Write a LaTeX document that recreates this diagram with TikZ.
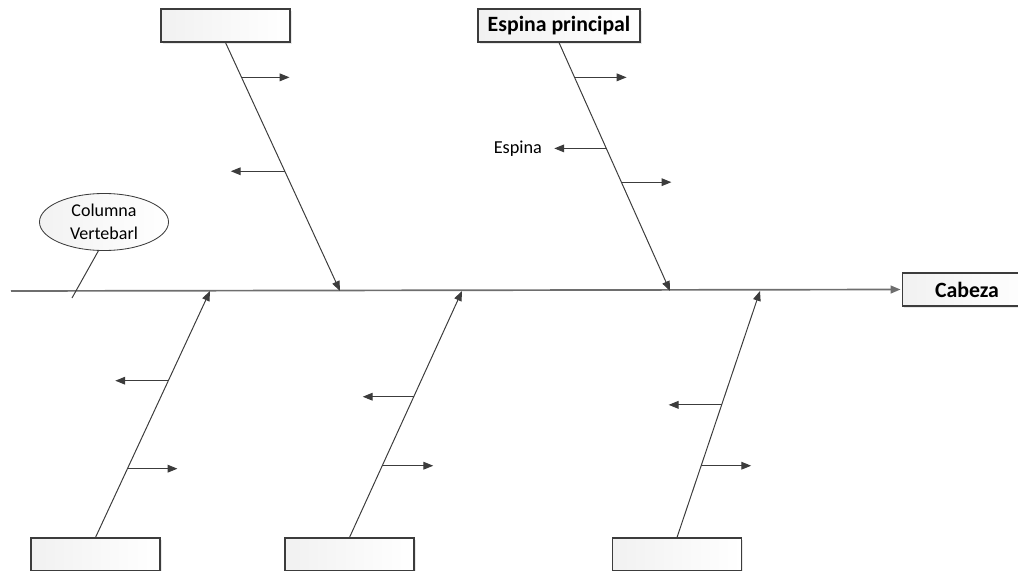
\documentclass[tikz,border=0pt]{standalone}
\usepackage{fontspec}
\setmainfont{Carlito}
\usepackage{tikz}
\usetikzlibrary{positioning,arrows.meta,shapes.geometric,shadows}

\definecolor{boneline}{HTML}{3C3C3C}
\definecolor{spineline}{HTML}{6E6E6E}

\begin{document}
\begin{tikzpicture}[
				x=0.025cm, y=-0.025cm,
				catbox/.style={rectangle, draw=boneline, line width=0.8pt, shading=axis, left color=gray!11, right color=white,
					minimum width=3.225cm, minimum height=0.825cm, inner sep=0pt,
					drop shadow={opacity=0.18, shadow xshift=1.2pt, shadow yshift=-1.2pt}},
				headbox/.style={catbox, font=\fontsize{15.5}{18}\selectfont\bfseries},
				spinenode/.style={ellipse, draw=boneline, line width=0.6pt, shading=axis, left color=gray!10, right color=white,
					minimum width=3.225cm, minimum height=1.425cm, inner sep=0pt, align=center,
					font=\fontsize{12.8}{16.5}\selectfont},
				bone/.style={draw=boneline, line width=0.7pt, -{Triangle[length=7pt,width=5.5pt]}},
				spur/.style={draw=boneline, line width=0.7pt, -{Triangle[length=7pt,width=5.5pt]}},
				spine/.style={draw=spineline, line width=1.2pt, -{Triangle[length=7pt,width=5.5pt]}, shorten >=1pt},
				spurlabel/.style={font=\fontsize{13}{15}\selectfont, inner sep=0pt},
				node distance = 0.3cm,
				]
				\useasboundingbox (0,0) rectangle (1018,571);
				
				%Boxes
				\node[catbox](tl) at (225.5,25.5){};
				\node[headbox, minimum width=4.05cm](tr) at (559,25.5){Espina principal};
				\node[catbox](bl) at (95.5,554.5){};
				\node[catbox](bm) at (349.5,554.5){};
				\node[catbox](br) at (677,554.5){};
				\node[headbox](head) at (967,289.5){Cabeza};
				\node[spinenode](col) at (104,222){Columna\\Vertebarl};
				
				%Joints on the spine
				\coordinate (start) at (11,291);
				\coordinate (jtl) at (340,291);
				\coordinate (jtr) at (670,291);
				\coordinate (jbl) at (210,291);
				\coordinate (jbm) at (462,291);
				\coordinate (jbr) at (760,291);
				\coordinate (colend) at (72,298);
				
				%Spine
				\draw[spine] (start) -- (head.west);
				\draw[draw=boneline, line width=0.7pt] (col.-101) -- (colend);
				
				%Bones
				\draw[bone] (tl.south) -- (jtl) coordinate[pos=0.14] (tl1) coordinate[pos=0.518] (tl2);
				\draw[bone] (tr.south) -- (jtr) coordinate[pos=0.14] (tr1) coordinate[pos=0.426] (tr2) coordinate[pos=0.562] (tr3);
				\draw[bone] (bl.north) -- (jbl) coordinate[pos=0.636] (bl1) coordinate[pos=0.279] (bl2);
				\draw[bone] (bm.north) -- (jbm) coordinate[pos=0.571] (bm1) coordinate[pos=0.291] (bm2);
				\draw[bone] (br.north) -- (jbr) coordinate[pos=0.538] (br1) coordinate[pos=0.291] (br2);
				
				%Spurs
				\draw[spur] (tl1) -- ++(48,0) coordinate (tl1e);
				\draw[spur] (tl2) -- ++(-54,0) coordinate (tl2e);
				\draw[spur] (tr1) -- ++(52,0) coordinate (tr1e);
				\draw[spur] (tr2) -- ++(-52,0) coordinate (tr2e);
				\draw[spur] (tr3) -- ++(50,0) coordinate (tr3e);
				\draw[spur] (bl1) -- ++(-53,0) coordinate (bl1e);
				\draw[spur] (bl2) -- ++(50,0) coordinate (bl2e);
				\draw[spur] (bm1) -- ++(-51,0) coordinate (bm1e);
				\draw[spur] (bm2) -- ++(51,0) coordinate (bm2e);
				\draw[spur] (br1) -- ++(-53,0) coordinate (br1e);
				\draw[spur] (br2) -- ++(50,0) coordinate (br2e);
				
				%Labels
				\node[spurlabel](esp)[left=of tr2e]{Espina};
				
			\end{tikzpicture}
\end{document}
